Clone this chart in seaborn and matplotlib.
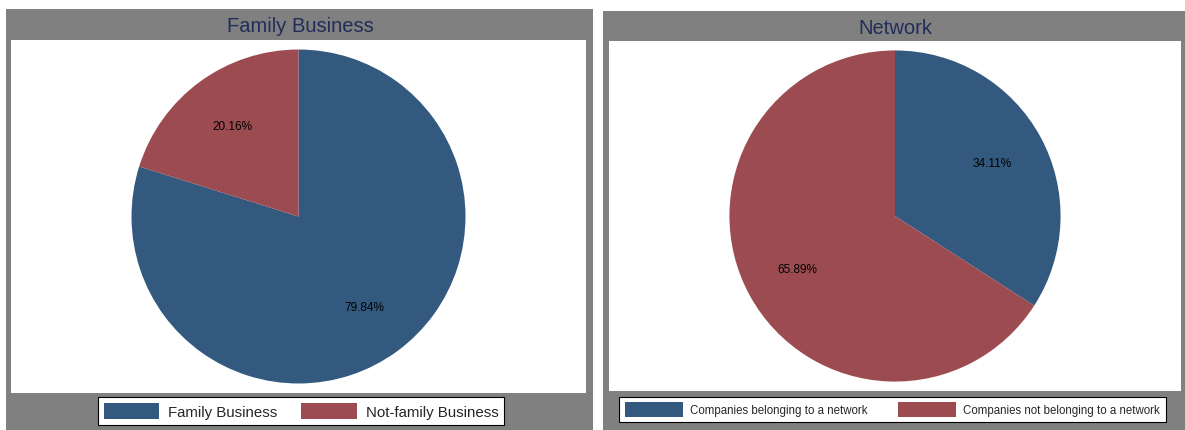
import matplotlib
matplotlib.use("Agg")
import matplotlib.pyplot as plt
from matplotlib.patches import Rectangle
import seaborn as sns

# data
fam_labels = ["Family Business", "Not-family Business"]
fam_values = [79.84, 20.16]
net_labels = ["Companies belonging to a network", "Companies not belonging to a network"]
net_values = [34.11, 65.89]
titles = ["Family Business", "Network"]

sns.set_style("white")
plt.rcParams["font.family"] = ["Liberation Sans", "DejaVu Sans"]

colors = sns.color_palette(["#33597e", "#9c4b51"])
GRAY = "#808080"
TITLE_COLOR = "#1f2d58"

W, H = 1185, 431
fig = plt.figure(figsize=(W / 100, H / 100), dpi=100)
fig.patch.set_facecolor("white")


def px_box(x0, y0, x1, y1):
    # pixel box (top-left origin) -> figure fraction [l, b, w, h]
    return [x0 / W, 1 - y1 / H, (x1 - x0) / W, (y1 - y0) / H]


panels = [
    dict(gray=(6, 10, 593, 431), white=(11, 41, 586, 394), title_xy=(300, 27),
         legend=(97, 399, 505, 425), labels=fam_labels, values=fam_values,
         leg_size=10.8, hl=3.7, hh=1.2, colsp=1.6, bpad=0.38),
    dict(gray=(603, 12, 1185, 431), white=(609, 42, 1181, 392), title_xy=(895, 29),
         legend=(617, 397, 1174, 424), labels=net_labels, values=net_values,
         leg_size=8.3, hl=5.0, hh=1.5, colsp=2.7, bpad=0.5),
]

for title, p in zip(titles, panels):
    gx0, gy0, gx1, gy1 = p["gray"]
    fig.patches.append(Rectangle((gx0 / W, 1 - gy1 / H), (gx1 - gx0) / W, (gy1 - gy0) / H,
                                 transform=fig.transFigure, facecolor=GRAY,
                                 edgecolor="none", zorder=-5))
    ax = fig.add_axes(px_box(*p["white"]))
    wedges, _, autotexts = ax.pie(p["values"], colors=colors, startangle=90,
                                  counterclock=False, autopct="%.2f%%",
                                  pctdistance=0.67, radius=1,
                                  wedgeprops=dict(linewidth=0),
                                  textprops=dict(fontsize=8.5, color="black"))
    ax.set_frame_on(True)
    ax.set_facecolor("white")
    ax.set_aspect("equal", adjustable="datalim")
    ax.set_ylim(-1.057, 1.057)
    ax.set_xticks([])
    ax.set_yticks([])
    for s in ax.spines.values():
        s.set_visible(False)

    tx, ty = p["title_xy"]
    fig.text(tx / W, 1 - ty / H, title, ha="center", va="center",
             fontsize=14.5, color=TITLE_COLOR)

    lx0, ly0, lx1, ly1 = p["legend"]
    leg = fig.legend(wedges, p["labels"], loc="center", ncol=2,
                     bbox_to_anchor=((lx0 + lx1) / 2 / W - 3 / W * (p is panels[1]),
                                     1 - (ly0 + ly1) / 2 / H),
                     fontsize=p["leg_size"], handlelength=p["hl"], handleheight=p["hh"],
                     frameon=True, fancybox=False, borderpad=p["bpad"], borderaxespad=0,
                     handletextpad=0.6, columnspacing=p["colsp"])
    leg.get_frame().set_edgecolor("black")
    leg.get_frame().set_linewidth(0.8)
    leg.get_frame().set_facecolor("white")
    leg.get_frame().set_alpha(1)

fig.savefig("out.png", dpi=100, facecolor="white")
